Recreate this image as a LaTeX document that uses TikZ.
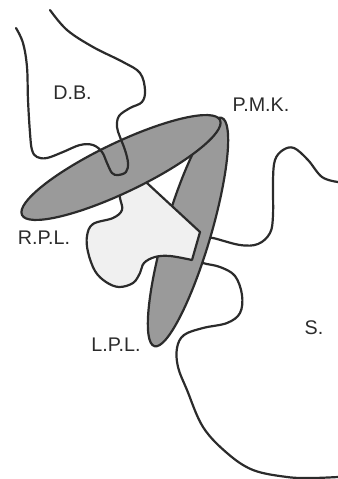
\documentclass[tikz,border=0pt]{standalone}
\usepackage{fontspec}
\setmainfont{Liberation Sans}
\definecolor{lobegray}{HTML}{9A9A9A}
\definecolor{palegray}{HTML}{F0F0F0}
\definecolor{inkgray}{HTML}{2B2B2B}

\begin{document}
\begin{tikzpicture}[x=0.75pt,y=-0.75pt,line width=1.65pt,
    contour/.style={draw=inkgray,line join=round,line cap=round},
    lobe/.style={contour,fill=lobegray},
    lbl/.style={text=inkgray,inner sep=0pt,font=\fontsize{14.8}{17}\selectfont}]
    \useasboundingbox (0,0) rectangle (338,479);
    \draw[contour] plot[smooth,tension=0.6] coordinates {(205,238) (213,238) (240,245) (258,244) (270,233) (273,215) (273,180) (275,160) (283,150) (294,148) (308,160) (322,177) (338,182)};
    \draw[contour] plot[smooth,tension=0.6] coordinates {(196,258) (203,263) (220,267) (235,276) (242,295) (240,313) (227,323) (203,328) (184,335) (177,348) (178,367) (187,390) (203,427) (227,453) (253,470) (287,477) (312,478) (338,477)};
    \draw[lobe,rotate around={73.6:(188,232)}] (188,232) ellipse [x radius=89.25pt,y radius=17.2pt];
    \draw[contour,fill=palegray] plot[smooth,tension=0.6] coordinates {(118,183) (120,198) (122,210) (113,218) (93,224) (87,236) (88,252) (95,271) (106,282) (119,287) (133,283) (140,273) (144,263) (155,257) (170,256) (192,260)} -- (200,232) -- (147,183) -- (130,172) -- cycle;
    \draw[lobe,rotate around={25.6:(121,167.5)}] (121,167.5) ellipse [x radius=82.35pt,y radius=18.6pt];
    \draw[contour] plot[smooth,tension=0.6] coordinates {(16,28) (23,43) (27,67) (28,100) (30,133) (32,150) (37,157) (47,158) (63,152) (80,145) (93,145) (102,152) (107,163) (112,173) (118,175) (126,172) (128,163) (125,150) (120,137) (117,127) (119,116) (130,108) (142,102) (145,90) (140,73) (123,62) (93,47) (67,30) (50,10)};
    \node[lbl] (db) at (72.5,93) {D.B.};
    \node[lbl] (pmk) at (261,104.5) {P.M.K.};
    \node[lbl] (rpl) at (44,237.5) {R.P.L.};
    \node[lbl] (lpl) at (116,344.5) {L.P.L.};
    \node[lbl] (s) at (314,327.5) {S.};
\end{tikzpicture}
\end{document}
